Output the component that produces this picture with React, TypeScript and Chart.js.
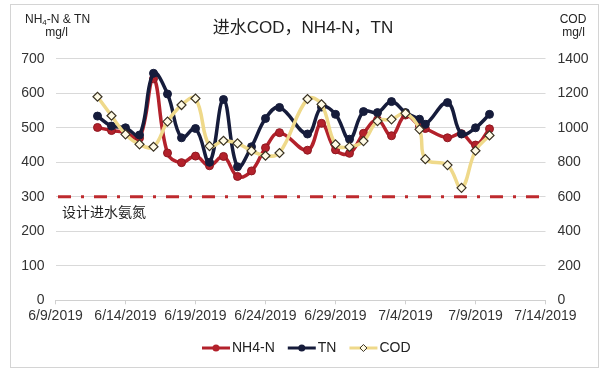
import React, { useEffect, useRef } from "react";
import { Chart, registerables } from "chart.js";

Chart.register(...registerables);

const dates = [
  "6/12/2019", "6/13/2019", "6/14/2019", "6/15/2019", "6/16/2019", "6/17/2019", "6/18/2019",
  "6/19/2019", "6/20/2019", "6/21/2019", "6/22/2019", "6/23/2019", "6/24/2019", "6/25/2019",
  "6/27/2019", "6/28/2019", "6/29/2019", "6/30/2019", "7/1/2019", "7/2/2019", "7/3/2019",
  "7/4/2019", "7/5/2019", "7/5/2019 10:00", "7/7/2019", "7/8/2019", "7/9/2019", "7/10/2019",
];
const nh4n = [
  501, 492, 486, 470, 642, 427, 399, 418, 390, 417, 359, 375, 442, 486,
  435, 513, 436, 426, 484, 523, 477, 537, 505, 498, 471, 483, 450, 497,
];
const tn = [
  534, 505, 500, 479, 658, 598, 471, 498, 400, 582, 387, 445, 527, 559,
  482, 560, 539, 467, 547, 544, 576, 544, 525, 510, 573, 482, 500, 539,
];
const cod = [
  1180, 1070, 962, 904, 890, 1036, 1132, 1170, 894, 925, 910, 866, 838, 854,
  1167, 1136, 904, 889, 923, 1039, 1049, 1084, 991, 818, 784, 652, 867, 956,
];
const designLimit = 300;
const designLabel = "设计进水氨氮";
const titleText = "进水COD，NH4-N，TN";
const seriesNames = ["NH4-N", "TN", "COD"];

const ORIGIN = Date.UTC(2019, 5, 9);
const DAY = 86400000;
function dayOffset(s: string): number {
  const [d, t] = s.split(" ");
  const [m, dd, y] = d.split("/").map(Number);
  let ms = Date.UTC(y, m - 1, dd);
  if (t) {
    const [h, mi] = t.split(":").map(Number);
    ms += (h * 60 + mi) * 60000;
  }
  return (ms - ORIGIN) / DAY;
}
function fmtDay(v: number): string {
  const dt = new Date(ORIGIN + v * DAY);
  return `${dt.getUTCMonth() + 1}/${dt.getUTCDate()}/${dt.getUTCFullYear()}`;
}

const RED = "#B3212B";
const NAVY = "#161C3B";
const GOLD = "#EFD98A";
const SANS = '"Liberation Sans", Arial, sans-serif';
const CJK = '"Liberation Sans", "Noto Sans CJK SC", sans-serif';

const decor = {
  id: "decor",
  beforeDraw(chart: any) {
    const { ctx } = chart;
    ctx.save();
    ctx.fillStyle = "#fff";
    ctx.fillRect(0, 0, chart.width, chart.height);
    ctx.strokeStyle = "#d4d4d4";
    ctx.lineWidth = 1;
    ctx.strokeRect(10.5, 4.5, 588, 363);
    ctx.restore();
  },
  beforeDatasetsDraw(chart: any) {
    const { ctx, chartArea, scales } = chart;
    const y = scales.y.getPixelForValue(designLimit);
    ctx.save();
    ctx.strokeStyle = "#BE2A2E";
    ctx.lineWidth = 3;
    ctx.setLineDash([13, 10, 3, 10]);
    ctx.lineDashOffset = -2.5;
    ctx.beginPath();
    ctx.moveTo(chartArea.left, y);
    ctx.lineTo(chartArea.right, y);
    ctx.stroke();
    ctx.setLineDash([]);
    ctx.fillStyle = "#222";
    ctx.font = "14px " + CJK;
    ctx.textAlign = "left";
    ctx.textBaseline = "middle";
    ctx.fillText(designLabel, 62, y + 16);
    ctx.restore();
  },
  afterDraw(chart: any) {
    const { ctx } = chart;
    ctx.save();
    ctx.fillStyle = "#222";
    ctx.textBaseline = "middle";
    // title
    ctx.font = "17px " + CJK;
    ctx.textAlign = "center";
    ctx.fillText(titleText, 303, 28);
    // left axis title with subscript
    ctx.font = "12px " + SANS;
    ctx.textAlign = "left";
    let x = 25;
    const ty = 20;
    ctx.fillText("NH", x, ty);
    x += ctx.measureText("NH").width;
    ctx.font = "8px " + SANS;
    ctx.fillText("4", x, ty + 3);
    x += ctx.measureText("4").width;
    ctx.font = "12px " + SANS;
    ctx.fillText("-N & TN", x, ty);
    ctx.textAlign = "center";
    ctx.fillText("mg/l", 56.5, 33);
    ctx.fillText("COD", 573, 20);
    ctx.fillText("mg/l", 573.5, 33);
    // legend
    const ly = 348;
    let lx = 202;
    ctx.font = "14px " + SANS;
    const cols = [RED, NAVY, GOLD];
    for (let i = 0; i < 3; i++) {
      ctx.strokeStyle = cols[i];
      ctx.lineWidth = 3;
      ctx.beginPath();
      ctx.moveTo(lx, ly);
      ctx.lineTo(lx + 28, ly);
      ctx.stroke();
      const cx = lx + 14;
      if (i < 2) {
        ctx.fillStyle = cols[i];
        ctx.beginPath();
        ctx.arc(cx, ly, 3.5, 0, Math.PI * 2);
        ctx.fill();
      } else {
        ctx.fillStyle = "#fffbe6";
        ctx.strokeStyle = "#3a3222";
        ctx.lineWidth = 1;
        ctx.beginPath();
        ctx.moveTo(cx, ly - 3.5);
        ctx.lineTo(cx + 3.5, ly);
        ctx.lineTo(cx, ly + 3.5);
        ctx.lineTo(cx - 3.5, ly);
        ctx.closePath();
        ctx.fill();
        ctx.stroke();
      }
      lx += 30;
      ctx.fillStyle = "#222";
      ctx.textAlign = "left";
      ctx.fillText(seriesNames[i], lx, ly);
      lx += ctx.measureText(seriesNames[i]).width + 13;
    }
    ctx.restore();
  },
};

export default function App() {
  const ref = useRef<HTMLCanvasElement>(null);
  useEffect(() => {
    const xs = dates.map(dayOffset);
    const mk = (arr: number[]) => arr.map((v, i) => ({ x: xs[i], y: v }));
    Chart.defaults.font.family = SANS;
    const chart = new Chart(ref.current!, {
      type: "line",
      data: {
        datasets: [
          {
            label: seriesNames[0],
            data: mk(nh4n),
            yAxisID: "y",
            borderColor: RED,
            backgroundColor: RED,
            borderWidth: 3.5,
            pointStyle: "circle",
            pointRadius: 4,
            pointBorderColor: "#8e1820",
            pointBorderWidth: 1,
            tension: 0.4,
            order: 2,
          },
          {
            label: seriesNames[1],
            data: mk(tn),
            yAxisID: "y",
            borderColor: NAVY,
            backgroundColor: NAVY,
            borderWidth: 3.5,
            pointStyle: "circle",
            pointRadius: 4,
            pointBorderColor: NAVY,
            pointBorderWidth: 1,
            tension: 0.4,
            order: 1,
          },
          {
            label: seriesNames[2],
            data: mk(cod),
            yAxisID: "y1",
            borderColor: GOLD,
            backgroundColor: "#fffbe6",
            borderWidth: 3.5,
            pointStyle: "rectRot",
            pointRadius: 4.5,
            pointBorderColor: "#3a3222",
            pointBorderWidth: 1.2,
            tension: 0.4,
            order: 0,
          },
        ],
      },
      options: {
        responsive: false,
        animation: false,
        layout: { padding: { top: 58.8, left: 0, right: 0, bottom: 0 } },
        plugins: { legend: { display: false }, title: { display: false }, tooltip: { enabled: false } },
        scales: {
          x: {
            type: "linear",
            min: 0,
            max: 35,
            afterFit: (s: any) => {
              s.height = 372 - 300.3;
            },
            grid: { drawOnChartArea: false, drawTicks: true, tickLength: 4, color: "#d0d0d0" },
            border: { display: true, color: "#d0d0d0" },
            ticks: {
              stepSize: 5,
              autoSkip: false,
              maxRotation: 0,
              padding: 3,
              color: "#333",
              font: { size: 14, family: SANS },
              callback: (v: any) => fmtDay(Number(v)),
            },
          },
          y: {
            position: "left",
            min: 0,
            max: 700,
            afterFit: (s: any) => {
              s.width = 55.5;
            },
            grid: { color: "#d9d9d9", drawTicks: false },
            border: { display: false },
            ticks: {
              stepSize: 100,
              padding: 11,
              color: "#333",
              font: { size: 14, family: SANS },
              callback: (v: any) => String(v),
            },
          },
          y1: {
            position: "right",
            min: 0,
            max: 1400,
            afterFit: (s: any) => {
              s.width = 59.5;
            },
            grid: { display: false, drawTicks: false },
            border: { display: false },
            ticks: {
              stepSize: 200,
              padding: 12,
              color: "#333",
              font: { size: 14, family: SANS },
              callback: (v: any) => String(v),
            },
          },
        },
      },
      plugins: [decor],
    } as any);
    return () => chart.destroy();
  }, []);
  return (
    <div style={{ position: "fixed", left: 0, top: 0, width: 605, height: 372, background: "#fff" }}>
      <canvas ref={ref} width={605} height={372} style={{ width: 605, height: 372, display: "block" }} />
    </div>
  );
}
